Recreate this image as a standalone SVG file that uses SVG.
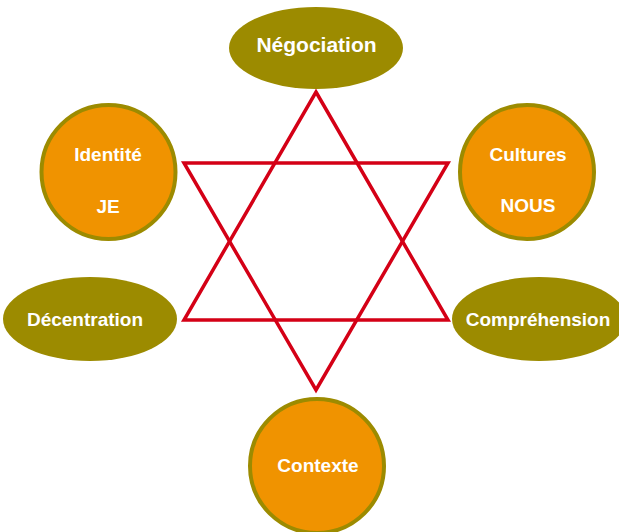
<svg xmlns="http://www.w3.org/2000/svg" width="619" height="532" viewBox="0 0 619 532">
<style>
.ell{fill:#9C8B00;stroke:none}
.circ{fill:#F09300;stroke:#9C8B00;stroke-width:4}
.star{fill:none;stroke:#D40016;stroke-width:3.5;stroke-linejoin:miter}
text{font-family:"Liberation Sans",Arial,sans-serif;font-weight:bold;font-size:19px;fill:#FFFFFF;text-anchor:middle}
.big{font-size:21px}
</style>
<rect width="619" height="532" fill="#FFFFFF"/>
<g id="connectors">
<polygon class="star" points="316,92 448,320 184,320"/>
<polygon class="star" points="184,163 448,163 316,390"/>
</g>
<g id="negociation">
<ellipse class="ell" cx="316" cy="48" rx="87" ry="41"/>
<text class="big" x="316.5" y="52">Négociation</text>
</g>
<g id="identite">
<circle class="circ" cx="108.5" cy="172" r="67"/>
<text x="108" y="161">Identité</text>
<text x="108" y="213">JE</text>
</g>
<g id="cultures">
<circle class="circ" cx="527" cy="172" r="67"/>
<text x="528" y="161">Cultures</text>
<text x="528" y="212">NOUS</text>
</g>
<g id="decentration">
<ellipse class="ell" cx="90" cy="319" rx="87" ry="42"/>
<text x="85" y="326">Décentration</text>
</g>
<g id="comprehension">
<ellipse class="ell" cx="539" cy="319" rx="87" ry="42"/>
<text x="538" y="326">Compréhension</text>
</g>
<g id="contexte">
<circle class="circ" cx="317" cy="466" r="67"/>
<text x="318" y="472">Contexte</text>
</g>
</svg>
